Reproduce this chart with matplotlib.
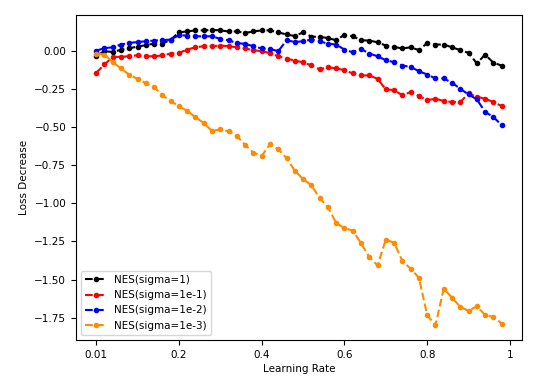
import matplotlib
matplotlib.use("Agg")
import matplotlib.pyplot as plt
import numpy as np

tick_labels = ["0.01", "0.2", "0.4", "0.6", "0.8", "1"]
tick_idx = [0, 10, 20, 30, 40, 50]

sigma_1 = [-0.03, 0.0, -0.005, 0.01, 0.02, 0.03, 0.04, 0.05, 0.05, 0.075,
           0.124, 0.13, 0.137, 0.137, 0.14, 0.137, 0.13, 0.13, 0.12, 0.13,
           0.137, 0.137, 0.124, 0.11, 0.10, 0.124, 0.096, 0.094, 0.087, 0.072,
           0.109, 0.098, 0.072, 0.07, 0.059, 0.037, 0.028, 0.018, 0.026, 0.007,
           0.054, 0.044, 0.044, 0.026, 0.007, -0.011, -0.08, -0.022, -0.076, -0.094]

sigma_1e1 = [-0.142, -0.087, -0.037, -0.037, -0.033, -0.026, -0.033, -0.033, -0.028, -0.015,
             -0.011, 0.011, 0.026, 0.033, 0.033, 0.037, 0.033, 0.026, 0.018, 0.007,
             0.0, -0.011, -0.033, -0.048, -0.061, -0.073, -0.093, -0.12, -0.105, -0.113,
             -0.124, -0.146, -0.159, -0.159, -0.181, -0.251, -0.255, -0.29, -0.268, -0.294,
             -0.321, -0.312, -0.327, -0.334, -0.334, -0.277, -0.299, -0.312, -0.334, -0.36]

sigma_1e2 = [0.004, 0.02, 0.026, 0.044, 0.054, 0.061, 0.065, 0.07, 0.072, 0.077,
             0.105, 0.103, 0.098, 0.098, 0.098, 0.081, 0.072, 0.054, 0.048, 0.033,
             0.018, 0.015, 0.0, 0.072, 0.061, 0.065, 0.077, 0.065, 0.05, 0.044,
             0.011, -0.007, 0.015, -0.015, -0.033, -0.059, -0.072, -0.094, -0.103, -0.131,
             -0.153, -0.179, -0.179, -0.207, -0.247, -0.284, -0.316, -0.399, -0.432, -0.486]

sigma_1e3 = [-0.015, -0.022, -0.072, -0.113, -0.155, -0.182, -0.21, -0.236, -0.289, -0.327,
             -0.36, -0.393, -0.433, -0.472, -0.524, -0.513, -0.526, -0.558, -0.615, -0.667,
             -0.687, -0.611, -0.644, -0.702, -0.785, -0.84, -0.88, -0.964, -1.025, -1.128,
             -1.163, -1.178, -1.261, -1.352, -1.407, -1.237, -1.259, -1.378, -1.429, -1.488,
             -1.734, -1.8, -1.56, -1.619, -1.68, -1.706, -1.675, -1.734, -1.745, -1.789]

series = [
    ("NES(sigma=1)", sigma_1, "black"),
    ("NES(sigma=1e-1)", sigma_1e1, "red"),
    ("NES(sigma=1e-2)", sigma_1e2, "blue"),
    ("NES(sigma=1e-3)", sigma_1e3, "darkorange"),
]

plt.rcParams['font.size'] = 7.5
fig = plt.figure(figsize=(5.5, 3.79), dpi=100)
ax = fig.add_axes([0.138, 0.103, 0.811, 0.857])
x = np.arange(len(sigma_1))
for label, vals, color in series:
    ax.plot(x, vals, linestyle="--", marker="o", markersize=3.0, linewidth=1.5,
            color=color, label=label)

ax.set_xticks(tick_idx)
ax.set_xticklabels(tick_labels)
ax.set_xlabel("Learning Rate", labelpad=3)
ax.set_ylabel("Loss Decrease")
ax.legend(loc="lower left")
fig.savefig("out.png", dpi=100)
